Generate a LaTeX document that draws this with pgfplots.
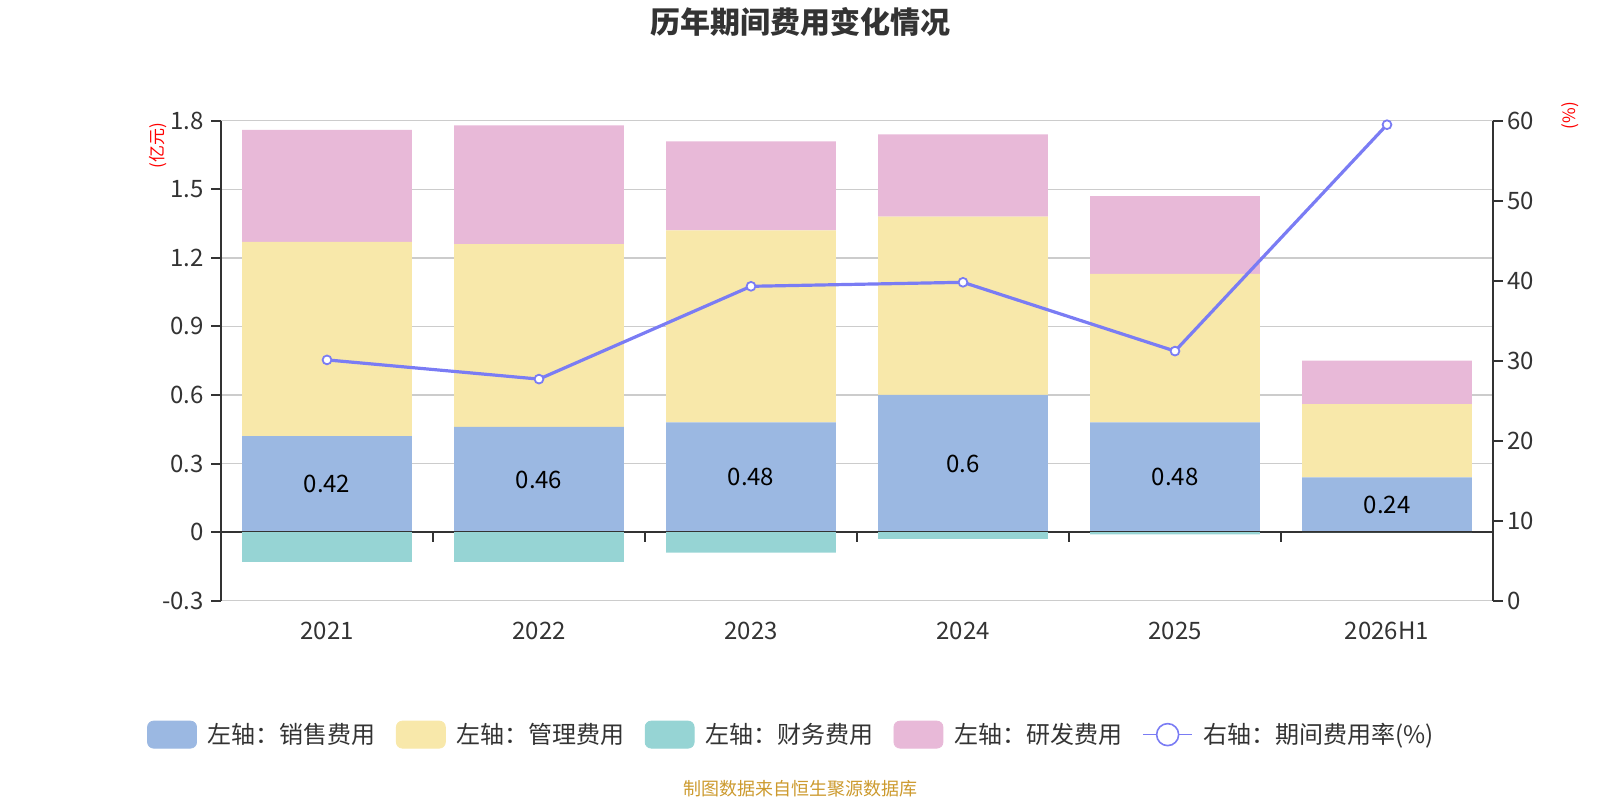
\documentclass[border=0pt]{standalone}
\usepackage{fontspec}
\setmainfont{Noto Sans CJK SC}
\usepackage{pgfplots}
\usepackage{pgfplotstable}
\pgfplotsset{compat=1.18}
\definecolor{salescol}{HTML}{9BB8E2}
\definecolor{mgmtcol}{HTML}{F8E8AA}
\definecolor{fincol}{HTML}{96D4D4}
\definecolor{rdcol}{HTML}{E8B9D8}
\definecolor{linecol}{HTML}{7A7CF4}
\definecolor{axiscol}{HTML}{333333}
\definecolor{gridcol}{HTML}{CCCCCC}
\definecolor{labcol}{HTML}{333333}
\definecolor{srccol}{HTML}{CC9A2E}
\pgfplotstableread{
x sales mgmt fin rd rate
0 0.42 0.85 -0.13 0.49 30.1
1 0.46 0.80 -0.13 0.52 27.7
2 0.48 0.84 -0.09 0.39 39.3
3 0.6 0.78 -0.03 0.36 39.8
4 0.48 0.65 -0.01 0.34 31.2
5 0.24 0.32 0 0.19 59.5
}\data
\newcommand{\tfont}{\fontsize{12bp}{14bp}\selectfont}
\begin{document}
\begin{tikzpicture}
\useasboundingbox (0,0) rectangle (800bp,400bp);
\pgfplotsset{
  base/.style={at={(110.5bp,99.65bp)}, anchor=south west,
    width=636bp, height=240bp, scale only axis,
    xmin=-0.5, xmax=5.5},
}
% main stacked axis
\begin{axis}[base,
  ymin=-0.3, ymax=1.8,
  ybar stacked, bar width=0.8,
  axis y line*=left, axis x line*=bottom,
  x axis line style={draw=none},
  y axis line style={draw=axiscol, line width=1bp},
  xtick={0,1,2,3,4,5},
  xticklabels={2021,2022,2023,2024,2025,2026H1},
  xtick style={draw=none},
  ytick={-0.3,0,0.3,0.6,0.9,1.2,1.5,1.8},
  yticklabels={-0.3,0,0.3,0.6,0.9,1.2,1.5,1.8},
  ymajorgrids, grid style={gridcol, line width=0.7bp},
  tick align=outside, major tick length=5bp,
  ytick style={axiscol, line width=1bp},
  ticklabel style={font=\tfont, text=labcol},
  xticklabel style={yshift=-2bp},
  clip=false,
]
\draw[axiscol, line width=1bp] (axis cs:-0.5,0) -- (axis cs:5.5,0);
\draw[axiscol, line width=1bp] (axis cs:0.5,0) -- ([yshift=-5bp]axis cs:0.5,0);
\draw[axiscol, line width=1bp] (axis cs:1.5,0) -- ([yshift=-5bp]axis cs:1.5,0);
\draw[axiscol, line width=1bp] (axis cs:2.5,0) -- ([yshift=-5bp]axis cs:2.5,0);
\draw[axiscol, line width=1bp] (axis cs:3.5,0) -- ([yshift=-5bp]axis cs:3.5,0);
\draw[axiscol, line width=1bp] (axis cs:4.5,0) -- ([yshift=-5bp]axis cs:4.5,0);
\addplot[fill=salescol, draw=none] table[x=x, y=sales] {\data};
\addplot[fill=mgmtcol, draw=none] table[x=x, y=mgmt] {\data};
\addplot[fill=rdcol, draw=none] table[x=x, y=rd] {\data};
\end{axis}
% finance (negative) bars and labels
\begin{axis}[base, ymin=-0.3, ymax=1.8, hide axis, clip=false]
\addplot[ybar, bar width=0.8, bar shift=0, fill=fincol, draw=none] table[x=x, y=fin] {\data};
\addplot[draw=none, mark=none, nodes near coords, point meta=explicit symbolic,
  nodes near coords style={anchor=center, font=\tfont, text=black}]
  table[x=x, y expr=\thisrow{sales}/2, meta=sales] {\data};
\end{axis}
% right axis line
\begin{axis}[base, ymin=0, ymax=60,
  axis y line*=right, axis x line=none,
  y axis line style={draw=axiscol, line width=1bp},
  ytick={0,10,20,30,40,50,60},
  yticklabels={0,10,20,30,40,50,60},
  tick align=outside, major tick length=5bp,
  ytick style={axiscol, line width=1bp},
  ticklabel style={font=\tfont, text=labcol},
  yticklabel style={xshift=-1.5bp},
  clip=false,
  legend columns=5,
  legend style={at={(0.4497,-0.279)}, anchor=center, draw=none, fill=none,
    inner sep=0pt, font=\tfont, text=labcol,
    nodes={inner sep=2.5bp},
    /tikz/every even column/.append style={column sep=7.5bp}},
]
\addplot[linecol, line width=1.6bp, mark=*, mark size=2.2bp,
  mark options={fill=white, draw=linecol, line width=0.9bp}, forget plot]
  table[x=x, y=rate] {\data};
\addlegendimage{legend image code/.code={\fill[salescol, rounded corners=3bp] (0bp,-6.75bp) rectangle (24.5bp,6.75bp); \path (27.5bp,0bp);}}
\addlegendentry{左轴：销售费用}
\addlegendimage{legend image code/.code={\fill[mgmtcol, rounded corners=3bp] (0bp,-6.75bp) rectangle (24.5bp,6.75bp); \path (27.5bp,0bp);}}
\addlegendentry{左轴：管理费用}
\addlegendimage{legend image code/.code={\fill[fincol, rounded corners=3bp] (0bp,-6.75bp) rectangle (24.5bp,6.75bp); \path (27.5bp,0bp);}}
\addlegendentry{左轴：财务费用}
\addlegendimage{legend image code/.code={\fill[rdcol, rounded corners=3bp] (0bp,-6.75bp) rectangle (24.5bp,6.75bp); \path (27.5bp,0bp);}}
\addlegendentry{左轴：研发费用}
\addlegendimage{legend image code/.code={\draw[linecol, line width=0.8bp] (0bp,0bp) -- (24.5bp,0bp); \draw[linecol, fill=white, line width=0.8bp] (12.25bp,0bp) circle (5.5bp); \path (27.5bp,0bp);}}
\addlegendentry{右轴：期间费用率(\%)}
\end{axis}
\node[font=\fontsize{15bp}{18bp}\selectfont\bfseries, text=axiscol] at (400bp,388.75bp) {历年期间费用变化情况};
\node[font=\fontsize{8.5bp}{10bp}\selectfont, text=red, rotate=90] at (79bp,327bp) {(亿元)};
\node[font=\fontsize{8.5bp}{10bp}\selectfont, text=red, rotate=90] at (785.3bp,342.1bp) {(\%)};
\node[font=\fontsize{9bp}{11bp}\selectfont, text=srccol] at (400bp,5.8bp) {制图数据来自恒生聚源数据库};
\end{tikzpicture}
\end{document}
